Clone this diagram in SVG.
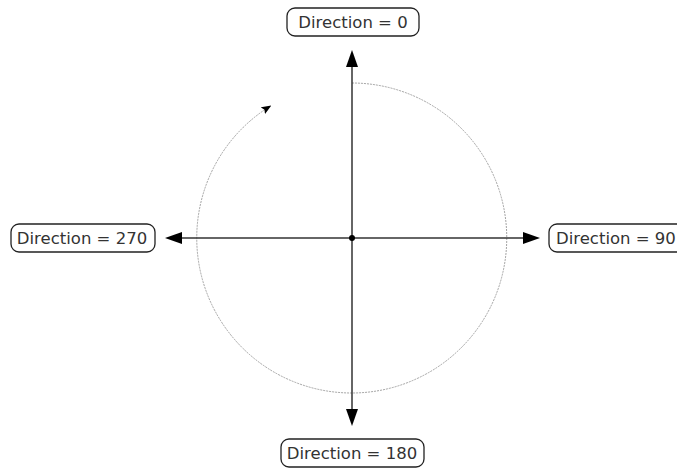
<svg xmlns="http://www.w3.org/2000/svg" width="677" height="468" viewBox="0 0 677 468">
<defs>
<style>
.box{fill:#fff;stroke:#222;stroke-width:1.3}
.lbl{font-family:"DejaVu Sans",sans-serif;font-size:16.5px;fill:#333;text-anchor:middle}
.axis{stroke:#333;stroke-width:1.5;fill:none}
.circ{stroke:#999;stroke-width:0.9;fill:none;stroke-dasharray:2 1}
.head{fill:#000}
</style>
<marker id="small" viewBox="0 0 10 8" refX="9" refY="4" markerWidth="10" markerHeight="8" markerUnits="userSpaceOnUse" orient="auto">
<path d="M0,0 L10,4 L0,8 L2,4 Z" fill="#000"/>
</marker>
</defs>
<g id="connectors">
<path class="circ" d="M352,83 A155,155 0 1 1 270.5,106" marker-end="url(#small)"/>
<line class="axis" x1="352" y1="64" x2="352" y2="412"/>
<line class="axis" x1="179" y1="238" x2="526" y2="238"/>
<polygon class="head" points="352,50 358,67 346,67"/>
<polygon class="head" points="352,426 358,409 346,409"/>
<polygon class="head" points="165,238 182,232 182,244"/>
<polygon class="head" points="540,238 523,232 523,244"/>
<circle cx="352" cy="238" r="3" fill="#000"/>
</g>
<g id="n0">
<rect class="box" x="287" y="8" width="132" height="28" rx="8"/>
<text class="lbl" x="353" y="28">Direction = 0</text>
</g>
<g id="n90">
<rect class="box" x="549" y="224" width="140" height="28" rx="8"/>
<text class="lbl" x="556" y="244" style="text-anchor:start">Direction = 90</text>
</g>
<g id="n180">
<rect class="box" x="281" y="439" width="143" height="28" rx="8"/>
<text class="lbl" x="352" y="459">Direction = 180</text>
</g>
<g id="n270">
<rect class="box" x="11" y="224" width="144" height="28" rx="8"/>
<text class="lbl" x="82" y="244">Direction = 270</text>
</g>
</svg>
